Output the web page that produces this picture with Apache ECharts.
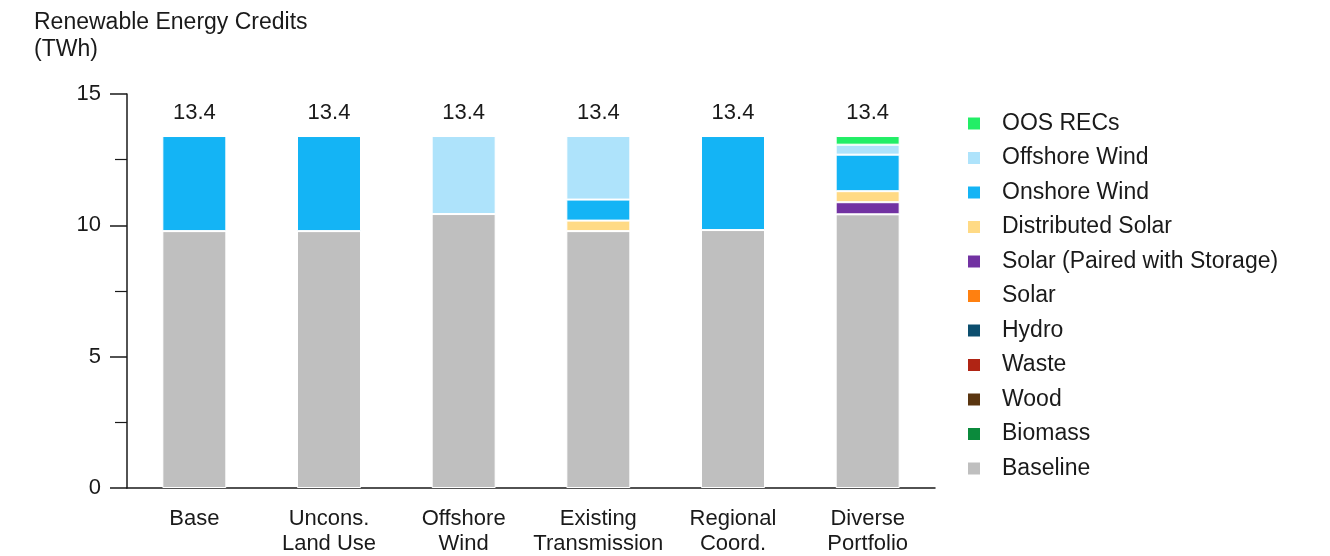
<!DOCTYPE html>
<html><head><meta charset="utf-8">
<script src="https://cdn.jsdelivr.net/npm/echarts@6/dist/echarts.min.js"></script>
<style>html,body{margin:0;padding:0;background:#fff}#c{width:1330px;height:556px}</style>
</head><body><div id="c"></div>
<script>
const categories = ['Base', 'Uncons.\nLand Use', 'Offshore\nWind', 'Existing\nTransmission', 'Regional\nCoord.', 'Diverse\nPortfolio'];
const baseline        = [9.78, 9.78, 10.43, 9.78, 9.82, 10.42];
const biomass         = [0, 0, 0, 0, 0, 0];
const wood            = [0, 0, 0, 0, 0, 0];
const waste           = [0, 0, 0, 0, 0, 0];
const hydro           = [0, 0, 0, 0, 0, 0];
const solar           = [0, 0, 0, 0, 0, 0];
const solarPaired     = [0, 0, 0, 0, 0, 0.46];
const distributedSolar= [0, 0, 0, 0.40, 0, 0.42];
const onshoreWind     = [3.62, 3.62, 0, 0.80, 3.58, 1.39];
const offshoreWind    = [0, 0, 2.97, 2.42, 0, 0.38];
const oosRecs         = [0, 0, 0, 0, 0, 0.33];
const totals          = [13.4, 13.4, 13.4, 13.4, 13.4, 13.4];
const yTicks = [0, 5, 10, 15];

const seriesDefs = [
  ['Baseline', baseline, '#BFBFBF'],
  ['Biomass', biomass, '#0B8A3C'],
  ['Wood', wood, '#5A3510'],
  ['Waste', waste, '#B02414'],
  ['Hydro', hydro, '#0C4E6E'],
  ['Solar', solar, '#FF8010'],
  ['Solar (Paired with Storage)', solarPaired, '#7232A2'],
  ['Distributed Solar', distributedSolar, '#FFDA85'],
  ['Onshore Wind', onshoreWind, '#14B4F5'],
  ['Offshore Wind', offshoreWind, '#AEE3FB'],
  ['OOS RECs', oosRecs, '#22EE66']
];
const FONT = 'Liberation Sans, Arial, sans-serif';
const series = seriesDefs.map(([name, data, color]) => ({
  name, type: 'bar', stack: 'all', data, barWidth: 64,
  itemStyle: { color, borderColor: '#fff', borderWidth: 1 },
  emphasis: { disabled: true }
}));
series.push({
  name: 'Total', type: 'bar', stack: 'all', data: totals.map(() => 0), barWidth: 64,
  itemStyle: { color: 'transparent', borderWidth: 0 },
  label: { show: true, position: 'top', distance: 12, fontFamily: FONT, fontSize: 22, color: '#1a1a1a',
           formatter: p => totals[p.dataIndex].toFixed(1) }
});

const chart = echarts.init(document.getElementById('c'), null, { renderer: 'canvas' });
chart.setOption({
  animation: false,
  backgroundColor: '#fff',
  title: { text: 'Renewable Energy Credits\n(TWh)', left: 29, top: 4,
    textStyle: { fontFamily: FONT, fontSize: 23, fontWeight: 'normal', color: '#1a1a1a', lineHeight: 27 } },
  grid: { left: 127, right: 395, top: 94, bottom: 63 },
  legend: {
    orient: 'vertical', left: 961, top: 107, itemWidth: 14, itemHeight: 14, itemGap: 11.5,
    icon: 'rect',
    data: seriesDefs.map(s => s[0]).reverse(),
    textStyle: { fontFamily: FONT, fontSize: 23, color: '#1a1a1a', padding: [0, 0, 0, 16] }
  },
  xAxis: {
    type: 'category', data: categories,
    axisLine: { lineStyle: { color: '#1a1a1a', width: 1.5 } },
    axisTick: { show: false },
    axisLabel: { interval: 0, fontFamily: FONT, fontSize: 22, color: '#1a1a1a', lineHeight: 25, margin: 18 }
  },
  yAxis: {
    type: 'value', min: 0, max: 15, interval: 5,
    axisLine: { show: true, lineStyle: { color: '#1a1a1a', width: 1.5 } },
    axisTick: { show: true, length: 17, lineStyle: { color: '#1a1a1a', width: 1.5 } },
    minorTick: { show: true, splitNumber: 2, length: 12, lineStyle: { color: '#1a1a1a', width: 1.2 } },
    splitLine: { show: false },
    axisLabel: { fontFamily: FONT, fontSize: 22, color: '#1a1a1a', margin: 26,
      formatter: v => yTicks.includes(v) ? String(v) : '' }
  },
  series
});
</script></body></html>
